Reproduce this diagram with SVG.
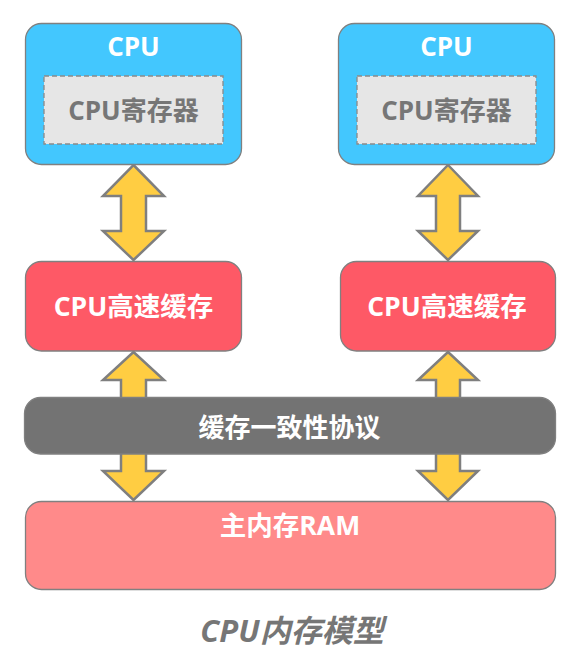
<svg xmlns="http://www.w3.org/2000/svg" width="585" height="669" viewBox="0 0 585 669">
<style>
.box{stroke:#808080;stroke-width:1.3}
.cpu{fill:#43C7FE}
.reg{fill:#E6E6E6;stroke:#8A8A8A;stroke-width:1.3;stroke-dasharray:5 3}
.cache{fill:#FE5966}
.bus{fill:#737373}
.ram{fill:#FF8A8A}
.arrow{fill:#FFCD42;stroke:#7F7F7F;stroke-width:2.5;stroke-linejoin:miter}
text{font-family:"Open Sans","Noto Sans CJK SC",sans-serif;font-weight:bold;font-size:26px;text-anchor:middle}
.w{fill:#FFFFFF}
.g{fill:#767676}
.big{font-size:26.5px}
.cap{font-size:31px;font-style:italic}
</style>
<rect x="0" y="0" width="585" height="669" fill="#FFFFFF"/>
<g id="connectors">
<polygon class="arrow" points="133.5,165 164,196 146,196 146,231 164,231 133.5,260 103,231 121,231 121,196 103,196"/>
<polygon class="arrow" points="448,165 478,196 460,196 460,231 478,231 448,260 418,231 436,231 436,196 418,196"/>
<polygon class="arrow" points="133.5,352 164,380 146,380 146,471 164,471 133.5,500 103,471 121,471 121,380 103,380"/>
<polygon class="arrow" points="448,352 478,380 460,380 460,471 478,471 448,500 418,471 436,471 436,380 418,380"/>
</g>
<g id="cpu1">
<rect class="box cpu" x="25.5" y="23.5" width="216" height="141" rx="16"/>
<text class="w" x="133.5" y="56">CPU</text>
<rect class="reg" x="44" y="76" width="179" height="68"/>
<text class="g" x="133.5" y="120">CPU寄存器</text>
</g>
<g id="cpu2">
<rect class="box cpu" x="338.5" y="23.5" width="216" height="141" rx="16"/>
<text class="w" x="446.5" y="56">CPU</text>
<rect class="reg" x="357" y="76" width="179" height="68"/>
<text class="g" x="446.5" y="120">CPU寄存器</text>
</g>
<g id="cache1">
<rect class="box cache" x="25.5" y="261.5" width="216" height="89.5" rx="16"/>
<text class="w big" x="133.5" y="316">CPU高速缓存</text>
</g>
<g id="cache2">
<rect class="box cache" x="340.5" y="261.5" width="215" height="89.5" rx="16"/>
<text class="w big" x="447" y="316">CPU高速缓存</text>
</g>
<g id="bus">
<rect class="box bus" x="24.5" y="397.5" width="531" height="56.5" rx="16"/>
<text class="w" x="289.5" y="437">缓存一致性协议</text>
</g>
<g id="ram">
<rect class="box ram" x="25.5" y="501.5" width="530" height="88" rx="16"/>
<text class="w big" x="290" y="535">主内存RAM</text>
</g>
<g id="caption">
<text class="g cap" x="292" y="642">CPU内存模型</text>
</g>
</svg>
